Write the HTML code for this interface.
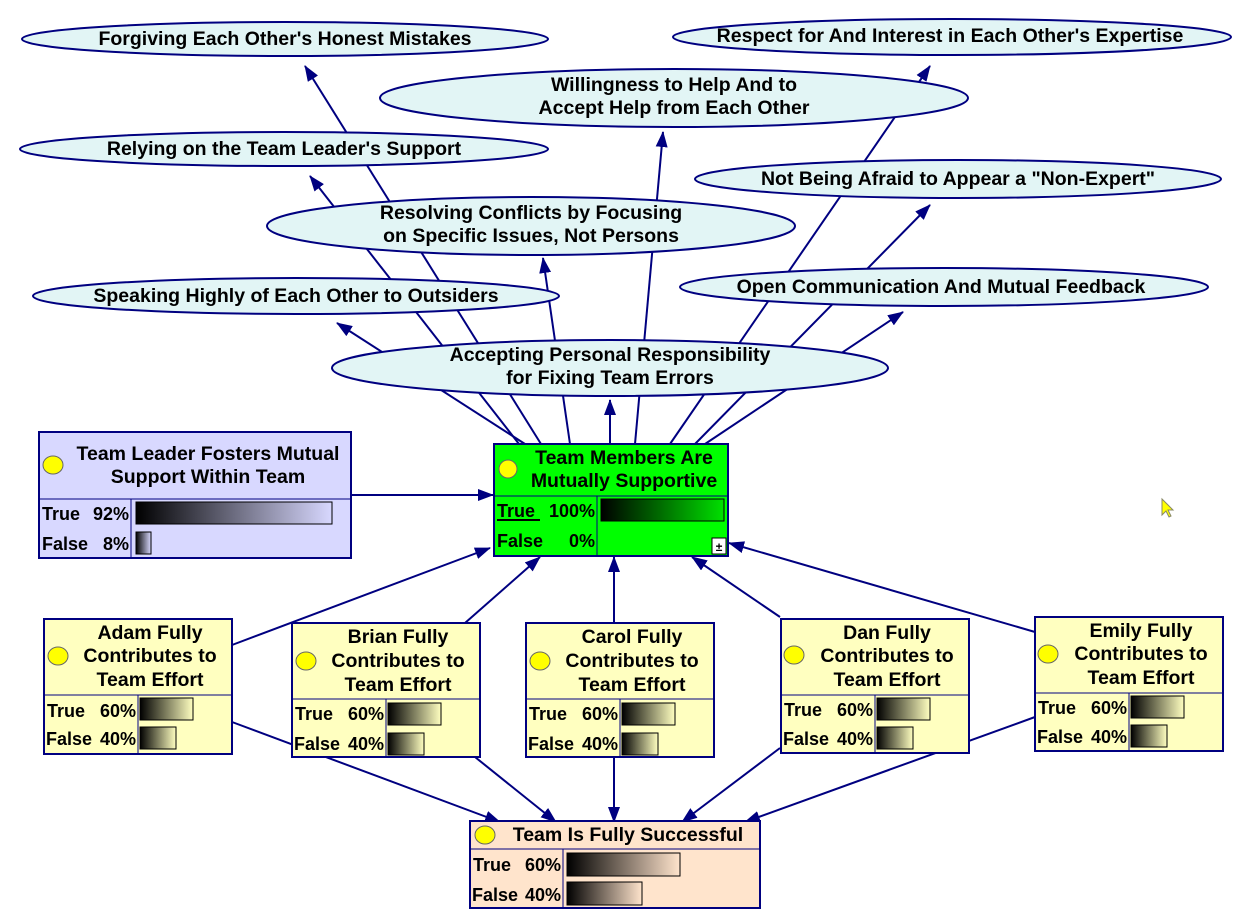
<!DOCTYPE html>
<html><head><meta charset="utf-8"><style>
html,body{margin:0;padding:0;background:#fff;}
svg{display:block;font-family:"Liberation Sans",Arial,sans-serif;font-weight:bold;}
.h{font-size:19.5px;}
</style></head><body>
<svg width="1255" height="919" viewBox="0 0 1255 919" xmlns="http://www.w3.org/2000/svg">
<defs>
<marker id="a" markerWidth="16" markerHeight="12" refX="15" refY="6" orient="auto" markerUnits="userSpaceOnUse">
<path d="M0,0 L16,6 L0,12 Z" fill="#000080"/></marker>
<linearGradient id="gL" x1="0" x2="1"><stop offset="0" stop-color="#000"/><stop offset="1" stop-color="#d8d8ff"/></linearGradient>
<linearGradient id="gC" x1="0" x2="1"><stop offset="0" stop-color="#000"/><stop offset="1" stop-color="#00e000"/></linearGradient>
<linearGradient id="gP" x1="0" x2="1"><stop offset="0" stop-color="#000"/><stop offset="1" stop-color="#ffffc0"/></linearGradient>
<linearGradient id="gS" x1="0" x2="1"><stop offset="0" stop-color="#000"/><stop offset="1" stop-color="#ffe4cc"/></linearGradient>
</defs>
<g stroke="#000080" stroke-width="2" fill="none" marker-end="url(#a)">
<line x1="541" y1="444" x2="305" y2="66"/>
<line x1="519" y1="444" x2="310" y2="176"/>
<line x1="525" y1="444" x2="337" y2="323"/>
<line x1="570" y1="444" x2="543" y2="258"/>
<line x1="610" y1="444" x2="610" y2="400"/>
<line x1="635" y1="444" x2="663" y2="132"/>
<line x1="670" y1="444" x2="930" y2="66"/>
<line x1="695" y1="444" x2="930" y2="205"/>
<line x1="705" y1="444" x2="903" y2="312"/>
<line x1="351" y1="495" x2="493" y2="495"/>
<line x1="232" y1="645" x2="490" y2="548"/>
<line x1="465" y1="623" x2="540" y2="557"/>
<line x1="614" y1="623" x2="614" y2="557"/>
<line x1="780" y1="617" x2="692" y2="557"/>
<line x1="1035" y1="632" x2="729" y2="543"/>
<line x1="232" y1="722" x2="500" y2="822"/>
<line x1="475" y1="757" x2="556" y2="822"/>
<line x1="614" y1="757" x2="614" y2="822"/>
<line x1="780" y1="748" x2="682" y2="822"/>
<line x1="1035" y1="717" x2="745" y2="822"/>
</g>
<g fill="#e2f5f5" stroke="#000080" stroke-width="2">
<ellipse cx="285" cy="39" rx="263" ry="17"/>
<ellipse cx="952" cy="37" rx="279" ry="18"/>
<ellipse cx="674" cy="98" rx="294" ry="29"/>
<ellipse cx="284" cy="149" rx="264" ry="17"/>
<ellipse cx="958" cy="179" rx="263" ry="19"/>
<ellipse cx="531" cy="226" rx="264" ry="29"/>
<ellipse cx="296" cy="296" rx="263" ry="18"/>
<ellipse cx="944" cy="287" rx="264" ry="19"/>
<ellipse cx="610" cy="368" rx="278" ry="28"/>
</g>
<g class="h" text-anchor="middle" fill="#000">
<text x="285" y="45">Forgiving Each Other's Honest Mistakes</text>
<text x="950" y="42">Respect for And Interest in Each Other's Expertise</text>
<text x="674" y="91">Willingness to Help And to</text>
<text x="674" y="114">Accept Help from Each Other</text>
<text x="284" y="155">Relying on the Team Leader's Support</text>
<text x="958" y="185">Not Being Afraid to Appear a "Non-Expert"</text>
<text x="531" y="219">Resolving Conflicts by Focusing</text>
<text x="531" y="242">on Specific Issues, Not Persons</text>
<text x="296" y="302">Speaking Highly of Each Other to Outsiders</text>
<text x="941" y="293">Open Communication And Mutual Feedback</text>
<text x="610" y="361">Accepting Personal Responsibility</text>
<text x="610" y="384">for Fixing Team Errors</text>
</g>
<!-- Leader -->
<g font-size="18">
<rect x="39" y="432" width="312" height="126" fill="#d8d8ff" stroke="#000080" stroke-width="2"/>
<line x1="39" y1="499" x2="351" y2="499" stroke="#000080"/>
<line x1="131" y1="499" x2="131" y2="558" stroke="#000080"/>
<ellipse cx="53" cy="465" rx="10" ry="9" fill="#ff0" stroke="#666"/>
<text class="h" x="208" y="460" text-anchor="middle">Team Leader Fosters Mutual</text>
<text class="h" x="208" y="483" text-anchor="middle">Support Within Team</text>
<text x="42" y="520">True</text><text x="129" y="520" text-anchor="end">92%</text>
<text x="42" y="550">False</text><text x="129" y="550" text-anchor="end">8%</text>
<rect x="136" y="502" width="196" height="22" fill="url(#gL)" stroke="#000"/>
<rect x="136" y="532" width="15" height="22" fill="url(#gL)" stroke="#000"/>
</g>
<!-- Central -->
<g font-size="18">
<rect x="494" y="444" width="234" height="112" fill="#00ff00" stroke="#000080" stroke-width="2"/>
<line x1="494" y1="496" x2="728" y2="496" stroke="#000080"/>
<line x1="597" y1="496" x2="597" y2="556" stroke="#000080"/>
<ellipse cx="508" cy="469" rx="9" ry="9" fill="#ff0" stroke="#666"/>
<text class="h" x="624" y="464" text-anchor="middle">Team Members Are</text>
<text class="h" x="624" y="487" text-anchor="middle">Mutually Supportive</text>
<text x="497" y="517">True</text><line x1="497" y1="520" x2="540" y2="520" stroke="#000" stroke-width="2"/>
<text x="595" y="517" text-anchor="end">100%</text>
<text x="497" y="547">False</text><text x="595" y="547" text-anchor="end">0%</text>
<rect x="601" y="499" width="123" height="22" fill="url(#gC)" stroke="#000"/>
<rect x="712" y="538" width="14" height="16" fill="#fff" stroke="#000" stroke-width="1"/>
<text x="719" y="551" font-size="12" text-anchor="middle">±</text>
</g>
<!-- persons -->
<g font-size="18">
<g transform="translate(44,619)">
<rect x="0" y="0" width="188" height="135" fill="#ffffc0" stroke="#000080" stroke-width="2"/>
<line x1="0" y1="76" x2="188" y2="76" stroke="#000080"/><line x1="94" y1="76" x2="94" y2="135" stroke="#000080"/>
<ellipse cx="14" cy="37" rx="10" ry="9" fill="#ff0" stroke="#666"/>
<text class="h" x="106" y="20" text-anchor="middle">Adam Fully</text><text class="h" x="106" y="43" text-anchor="middle">Contributes to</text><text class="h" x="106" y="67" text-anchor="middle">Team Effort</text>
<text x="3" y="98">True</text><text x="92" y="98" text-anchor="end">60%</text>
<text x="2" y="126">False</text><text x="92" y="126" text-anchor="end">40%</text>
<rect x="96" y="79" width="53" height="22" fill="url(#gP)" stroke="#000"/><rect x="96" y="108" width="36" height="22" fill="url(#gP)" stroke="#000"/>
</g>
<g transform="translate(292,623)">
<rect x="0" y="0" width="188" height="134" fill="#ffffc0" stroke="#000080" stroke-width="2"/>
<line x1="0" y1="76" x2="188" y2="76" stroke="#000080"/><line x1="94" y1="76" x2="94" y2="134" stroke="#000080"/>
<ellipse cx="14" cy="38" rx="10" ry="9" fill="#ff0" stroke="#666"/>
<text class="h" x="106" y="20" text-anchor="middle">Brian Fully</text><text class="h" x="106" y="44" text-anchor="middle">Contributes to</text><text class="h" x="106" y="68" text-anchor="middle">Team Effort</text>
<text x="3" y="97">True</text><text x="92" y="97" text-anchor="end">60%</text>
<text x="2" y="127">False</text><text x="92" y="127" text-anchor="end">40%</text>
<rect x="96" y="80" width="53" height="22" fill="url(#gP)" stroke="#000"/><rect x="96" y="110" width="36" height="22" fill="url(#gP)" stroke="#000"/>
</g>
<g transform="translate(526,623)">
<rect x="0" y="0" width="188" height="134" fill="#ffffc0" stroke="#000080" stroke-width="2"/>
<line x1="0" y1="76" x2="188" y2="76" stroke="#000080"/><line x1="94" y1="76" x2="94" y2="134" stroke="#000080"/>
<ellipse cx="14" cy="38" rx="10" ry="9" fill="#ff0" stroke="#666"/>
<text class="h" x="106" y="20" text-anchor="middle">Carol Fully</text><text class="h" x="106" y="44" text-anchor="middle">Contributes to</text><text class="h" x="106" y="68" text-anchor="middle">Team Effort</text>
<text x="3" y="97">True</text><text x="92" y="97" text-anchor="end">60%</text>
<text x="2" y="127">False</text><text x="92" y="127" text-anchor="end">40%</text>
<rect x="96" y="80" width="53" height="22" fill="url(#gP)" stroke="#000"/><rect x="96" y="110" width="36" height="22" fill="url(#gP)" stroke="#000"/>
</g>
<g transform="translate(781,619)">
<rect x="0" y="0" width="188" height="134" fill="#ffffc0" stroke="#000080" stroke-width="2"/>
<line x1="0" y1="76" x2="188" y2="76" stroke="#000080"/><line x1="94" y1="76" x2="94" y2="134" stroke="#000080"/>
<ellipse cx="13" cy="36" rx="10" ry="9" fill="#ff0" stroke="#666"/>
<text class="h" x="106" y="20" text-anchor="middle">Dan Fully</text><text class="h" x="106" y="43" text-anchor="middle">Contributes to</text><text class="h" x="106" y="67" text-anchor="middle">Team Effort</text>
<text x="3" y="97">True</text><text x="92" y="97" text-anchor="end">60%</text>
<text x="2" y="126">False</text><text x="92" y="126" text-anchor="end">40%</text>
<rect x="96" y="79" width="53" height="22" fill="url(#gP)" stroke="#000"/><rect x="96" y="108" width="36" height="22" fill="url(#gP)" stroke="#000"/>
</g>
<g transform="translate(1035,617)">
<rect x="0" y="0" width="188" height="134" fill="#ffffc0" stroke="#000080" stroke-width="2"/>
<line x1="0" y1="76" x2="188" y2="76" stroke="#000080"/><line x1="94" y1="76" x2="94" y2="134" stroke="#000080"/>
<ellipse cx="13" cy="37" rx="10" ry="9" fill="#ff0" stroke="#666"/>
<text class="h" x="106" y="20" text-anchor="middle">Emily Fully</text><text class="h" x="106" y="43" text-anchor="middle">Contributes to</text><text class="h" x="106" y="67" text-anchor="middle">Team Effort</text>
<text x="3" y="97">True</text><text x="92" y="97" text-anchor="end">60%</text>
<text x="2" y="126">False</text><text x="92" y="126" text-anchor="end">40%</text>
<rect x="96" y="79" width="53" height="22" fill="url(#gP)" stroke="#000"/><rect x="96" y="108" width="36" height="22" fill="url(#gP)" stroke="#000"/>
</g>
</g>
<!-- Success -->
<g font-size="18">
<rect x="470" y="821" width="290" height="87" fill="#ffe4cc" stroke="#000080" stroke-width="2"/>
<line x1="470" y1="849" x2="760" y2="849" stroke="#000080"/>
<line x1="563" y1="849" x2="563" y2="908" stroke="#000080"/>
<ellipse cx="485" cy="835" rx="10" ry="9" fill="#ff0" stroke="#666"/>
<text class="h" x="628" y="841" text-anchor="middle">Team Is Fully Successful</text>
<text x="473" y="871">True</text><text x="561" y="871" text-anchor="end">60%</text>
<text x="472" y="901">False</text><text x="561" y="901" text-anchor="end">40%</text>
<rect x="567" y="853" width="113" height="23" fill="url(#gS)" stroke="#000"/>
<rect x="567" y="882" width="75" height="23" fill="url(#gS)" stroke="#000"/>
</g>
<path d="M1162,499 L1162,515 L1166,511 L1169,517 L1171,516 L1168,510 L1173,510 Z" fill="#ff0" stroke="#886" stroke-width="1"/>
</svg>
</body></html>
